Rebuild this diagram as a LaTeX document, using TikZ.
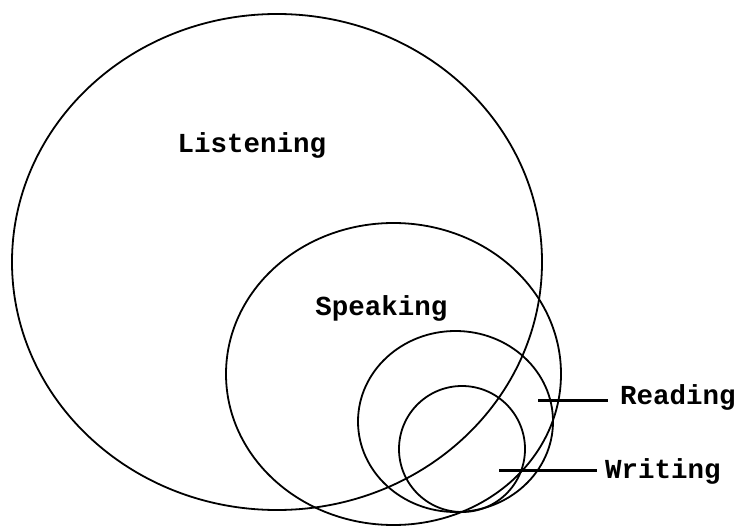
\documentclass[tikz,border=0pt]{standalone}
\usepackage{fontspec}
\setmonofont{Liberation Mono}
\usetikzlibrary{shapes.geometric}
\begin{document}
\begin{tikzpicture}[x=1pt,y=-1pt,
  ring/.style={draw=black, ellipse, line width=1.8pt, inner sep=0pt},
  lbl/.style={font=\ttfamily\bfseries\fontsize{27.5}{30}\selectfont, inner sep=0pt},
  tag/.style={font=\ttfamily\bfseries\fontsize{27.5}{30}\selectfont, inner sep=0pt, anchor=west},
  lead/.style={line width=3pt}]
\useasboundingbox (0,0) rectangle (741,529);
\node[ring, minimum width=530pt, minimum height=496pt] (listening) at (277,262) {};
\node[ring, minimum width=335pt, minimum height=302pt] (speaking) at (393.5,374) {};
\node[ring, minimum width=195pt, minimum height=181pt] (reading) at (455.5,421.5) {};
\node[ring, minimum width=126pt, minimum height=126pt] (writing) at (462,449) {};
\node[lbl] (tlisten) at (252,145) {Listening};
\node[lbl] (tspeak) at (381.5,308) {Speaking};
\node[tag] (tread) at (620,397) {Reading};
\node[tag] (twrite) at (605,471) {Writing};
\coordinate (rs) at (538,400);
\coordinate (ws) at (499,470);
\draw[lead] (rs) -- ([xshift=-12pt]tread.west |- rs);
\draw[lead] (ws) -- ([xshift=-8pt]twrite.west |- ws);
\end{tikzpicture}
\end{document}
